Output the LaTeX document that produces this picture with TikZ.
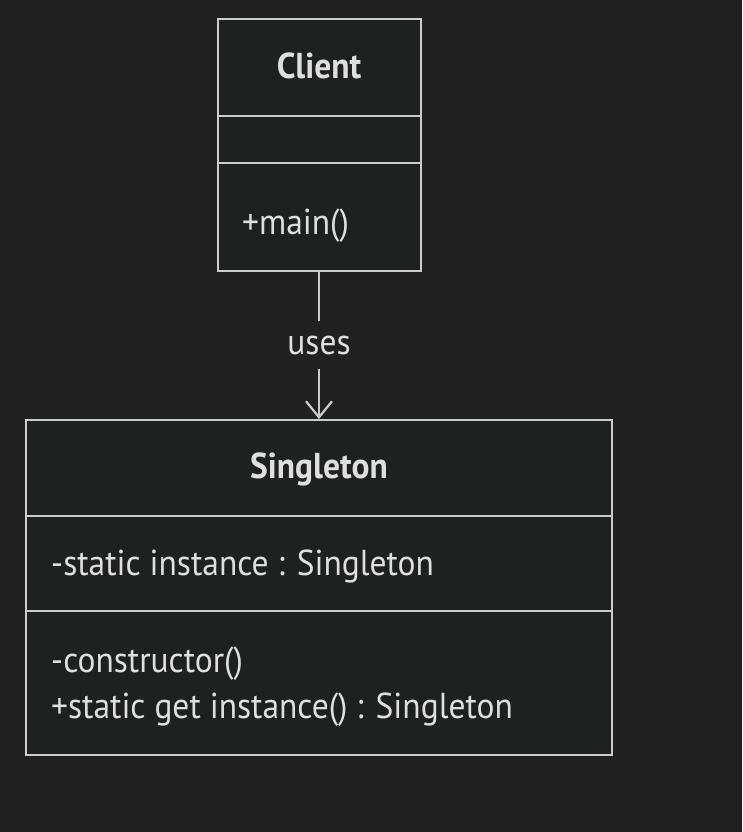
\documentclass[tikz,border=0pt]{standalone}
\usepackage{fontspec}
\setmainfont{PT Sans}[FakeStretch=0.93]
\usetikzlibrary{arrows.meta}
\definecolor{bg}{HTML}{212121}
\definecolor{boxfill}{HTML}{1F2020}
\definecolor{stroke}{HTML}{CCCCCC}
\definecolor{txt}{HTML}{E0DFDF}
\tikzset{
  umlbox/.style={draw=stroke, fill=boxfill, line width=1.6pt, rectangle, inner sep=0pt},
  divider/.style={draw=stroke, line width=1.6pt},
  title/.style={text=txt, font=\fontsize{36}{40}\selectfont\bfseries, inner sep=0pt, anchor=base},
  member/.style={text=txt, font=\fontsize{36}{40}\selectfont, inner sep=0pt, anchor=base west},
  conn/.style={draw=stroke, line width=1.6pt},
}
\begin{document}
\begin{tikzpicture}[x=1pt,y=-1pt]
\useasboundingbox[fill=bg] (0,0) rectangle (742,832);
% Client
\node[umlbox, minimum width=203pt, minimum height=252pt] (client) at (319.5,145) {};
\coordinate (c1l) at (218,116); \coordinate (c1r) at (421,116);
\coordinate (c2l) at (218,163); \coordinate (c2r) at (421,163);
\draw[divider] (c1l) -- (c1r);
\draw[divider] (c2l) -- (c2r);
\node[title] (clientname) at (319,79) {Client};
\node[member] (main) at (242,234) {+main()};
% Singleton
\node[umlbox, minimum width=586pt, minimum height=335pt] (single) at (319,587.5) {};
\coordinate (s1l) at (26,516); \coordinate (s1r) at (612,516);
\coordinate (s2l) at (26,611); \coordinate (s2r) at (612,611);
\draw[divider] (s1l) -- (s1r);
\draw[divider] (s2l) -- (s2r);
\node[title] (singlename) at (319,478) {Singleton};
\node[member] (attr) at (51,575) {-static instance : Singleton};
\node[member] (ctor) at (51,672) {-constructor()};
\node[member] (getinst) at (51,718) {+static get instance() : Singleton};
% connector
\coordinate (ctop) at (319,271);
\coordinate (stop) at (319,419);
\draw[conn, -{Straight Barb[length=16pt, width=26pt, line width=2.2pt]}] (ctop) -- node[fill=bg, text=txt, font=\fontsize{36}{40}\selectfont, minimum height=48pt, inner sep=2pt] (uses) {uses} (stop);
\end{tikzpicture}
\end{document}
